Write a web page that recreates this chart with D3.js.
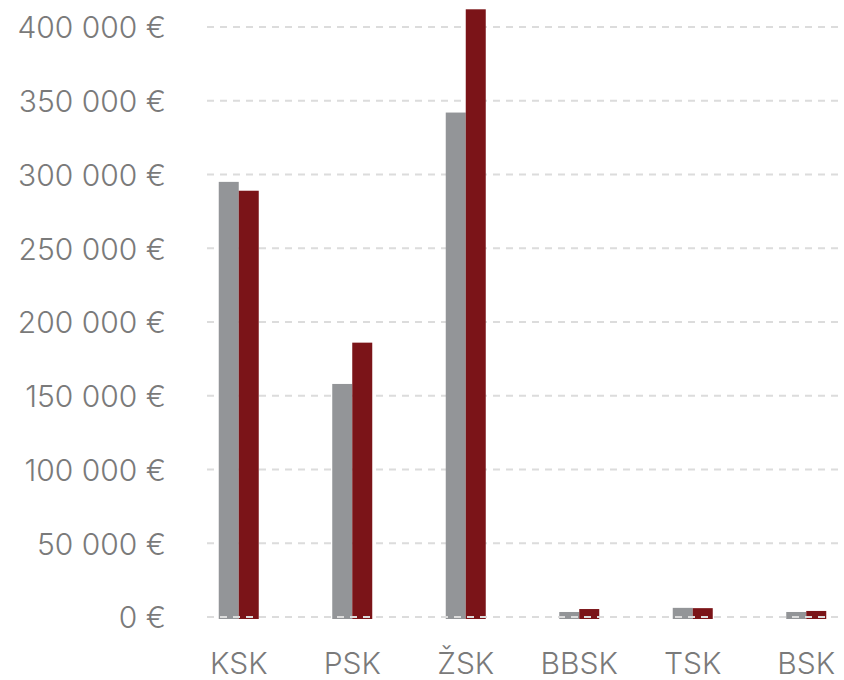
<!DOCTYPE html>
<meta charset="utf-8">
<style>
    body { margin: 0; background: #fff; }
    .tick text { font-family: Inter, Roboto, sans-serif; font-weight: 300; fill: #7a7a7a; }
    .grid line { stroke: #dcdcdc; stroke-width: 2px; stroke-dasharray: 7,6; }
</style>
<svg width="844" height="680"></svg>
<script src="https://d3js.org/d3.v7.min.js"></script>
<script>

    var regions = ["KSK", "PSK", "ŽSK", "BBSK", "TSK", "BSK"];
    var series1 = [295000, 158000, 342000, 3400, 6200, 3400];
    var series2 = [289000, 186000, 412000, 5400, 6000, 4100];
    var yTicks = [0, 50000, 100000, 150000, 200000, 250000, 300000, 350000, 400000];
    var colors = ["#939598", "#7b1418"];

    var svg = d3.select("svg");

    var y = d3.scaleLinear().domain([0, 400000]).range([617, 27]);
    var x = d3.scaleBand().domain(regions).range([182, 863]);
    var barW = 20;

    var fmt = function(v) {
        return d3.format(",")(v).replace(/,/g, " ") + " €";
    };

    // grid lines
    var grid = svg.append("g").attr("class", "grid");
    grid.selectAll("line")
        .data(yTicks.filter(function(d) { return d > 0; }))
        .enter().append("line")
        .attr("x1", 207).attr("x2", 844)
        .attr("y1", function(d) { return y(d); })
        .attr("y2", function(d) { return y(d); });

    // y axis labels
    var yAxis = svg.append("g")
        .attr("transform", "translate(166,0)")
        .call(d3.axisLeft(y).tickValues(yTicks).tickFormat(fmt).tickSize(0).tickPadding(0));
    yAxis.select(".domain").remove();
    yAxis.selectAll("text").style("font-size", "30px").attr("dy", "0.36em");

    // bars
    var data = regions.map(function(r, i) { return { r: r, a: series1[i], b: series2[i] }; });
    var groups = svg.append("g").selectAll("g")
        .data(data)
        .enter().append("g");

    groups.append("rect")
        .attr("x", function(d) { return x(d.r) + x.bandwidth() / 2 - barW; })
        .attr("width", barW)
        .attr("y", function(d) { return y(d.a); })
        .attr("height", function(d) { return y(0) - y(d.a) + 2; })
        .attr("fill", colors[0]);

    groups.append("rect")
        .attr("x", function(d) { return x(d.r) + x.bandwidth() / 2; })
        .attr("width", barW)
        .attr("y", function(d) { return y(d.b); })
        .attr("height", function(d) { return y(0) - y(d.b) + 2; })
        .attr("fill", colors[1]);

    // zero line on top of the bars
    svg.append("g").attr("class", "grid")
        .append("line")
        .attr("x1", 207).attr("x2", 844)
        .attr("y1", y(0)).attr("y2", y(0));

    // x axis labels
    var xAxis = svg.append("g")
        .attr("transform", "translate(0,653)")
        .call(d3.axisBottom(x).tickSize(0).tickPadding(0));
    xAxis.select(".domain").remove();
    xAxis.selectAll("text").style("font-size", "30px").attr("dy", "0.71em");

</script>
